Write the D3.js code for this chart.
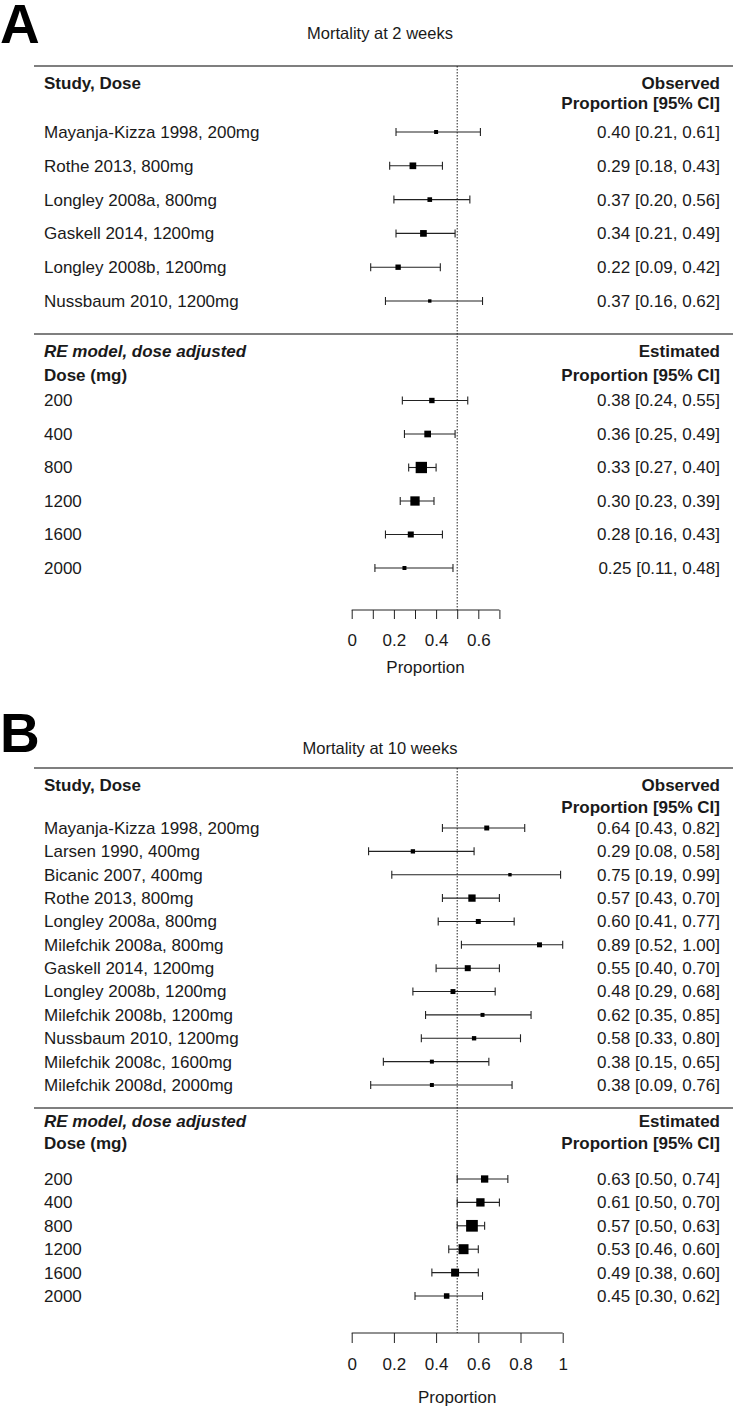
<!DOCTYPE html>
<html><head><meta charset="utf-8">
<script src="https://cdn.jsdelivr.net/npm/d3@7"></script>
<style>body{margin:0;background:#fff}svg{display:block}text{font-family:"Liberation Sans",Arial,sans-serif;fill:#1a1a1a}</style>
</head><body><svg id="c" width="733" height="1408"></svg>
<script>
// ---- Panel A data (Mortality at 2 weeks)
const studiesA = ["Mayanja-Kizza 1998, 200mg","Rothe 2013, 800mg","Longley 2008a, 800mg","Gaskell 2014, 1200mg","Longley 2008b, 1200mg","Nussbaum 2010, 1200mg"];
const obsEstA = [0.40,0.29,0.37,0.34,0.22,0.37];
const obsLoA  = [0.21,0.18,0.20,0.21,0.09,0.16];
const obsHiA  = [0.61,0.43,0.56,0.49,0.42,0.62];
const obsWtA  = [11,31,15,31,20,8];
const dosesA = ["200","400","800","1200","1600","2000"];
const reEstA = [0.38,0.36,0.33,0.30,0.28,0.25];
const reLoA  = [0.24,0.25,0.27,0.23,0.16,0.11];
const reHiA  = [0.55,0.49,0.40,0.39,0.43,0.48];
const reWtA  = [20,31,89,60,25,11];
const ticksA = [0,0.1,0.2,0.3,0.4,0.5,0.6,0.7];
const tickLabelsA = ["0","","0.2","","0.4","","0.6",""];

// ---- Panel B data (Mortality at 10 weeks)
const studiesB = ["Mayanja-Kizza 1998, 200mg","Larsen 1990, 400mg","Bicanic 2007, 400mg","Rothe 2013, 800mg","Longley 2008a, 800mg","Milefchik 2008a, 800mg","Gaskell 2014, 1200mg","Longley 2008b, 1200mg","Milefchik 2008b, 1200mg","Nussbaum 2010, 1200mg","Milefchik 2008c, 1600mg","Milefchik 2008d, 2000mg"];
const obsEstB = [0.64,0.29,0.75,0.57,0.60,0.89,0.55,0.48,0.62,0.58,0.38,0.38];
const obsLoB  = [0.43,0.08,0.19,0.43,0.41,0.52,0.40,0.29,0.35,0.33,0.15,0.09];
const obsHiB  = [0.82,0.58,0.99,0.70,0.77,1.00,0.70,0.68,0.85,0.80,0.65,0.76];
const obsWtB  = [17,13,8,37,17,17,25,17,11,13,11,11];
const dosesB = ["200","400","800","1200","1600","2000"];
const reEstB = [0.63,0.61,0.57,0.53,0.49,0.45];
const reLoB  = [0.50,0.50,0.50,0.46,0.38,0.30];
const reHiB  = [0.74,0.70,0.63,0.60,0.60,0.62];
const reWtB  = [37,48,95,69,44,21];
const ticksB = [0,0.2,0.4,0.6,0.8,1];
const tickLabelsB = ["0","0.2","0.4","0.6","0.8","1"];

const svg = d3.select("#c");
const x = d3.scaleLinear().domain([0,1]).range([351.7,562.7]);
const size = d3.scaleSqrt().domain([0,100]).range([0,12]);
const fmt = d3.format(".2f");
const LX = 44, RX = 720, FS = 17;

function rows(g, labels, est, lo, hi, wt, y) {
  labels.forEach((lab,i)=>{
    const yy = y(i);
    g.append("text").attr("x",LX).attr("y",yy).attr("dy","0.35em").attr("font-size",FS).text(lab);
    g.append("text").attr("x",RX).attr("y",yy).attr("dy","0.35em").attr("text-anchor","end").attr("font-size",FS)
      .text(`${fmt(est[i])} [${fmt(lo[i])}, ${fmt(hi[i])}]`);
    g.append("line").attr("x1",x(lo[i])).attr("x2",x(hi[i])).attr("y1",yy).attr("y2",yy).attr("stroke","#222").attr("stroke-width",1.1);
    [lo[i],hi[i]].forEach(v=>g.append("line").attr("x1",x(v)).attr("x2",x(v)).attr("y1",yy-4).attr("y2",yy+4).attr("stroke","#222").attr("stroke-width",1.1));
    const s = size(wt[i]);
    g.append("rect").attr("x",x(est[i])-s/2).attr("y",yy-s/2).attr("width",s).attr("height",s).attr("fill","#000");
  });
}

function panel(p) {
  const g = svg.append("g");
  g.append("text").attr("x",0).attr("y",p.letterY).attr("font-size",55).attr("font-weight","bold").style("fill","#000").text(p.letter);
  g.append("text").attr("x",380).attr("y",p.titleY).attr("dy","0.35em").attr("text-anchor","middle").attr("font-size",16.5).text(p.title);
  [p.line1,p.line2].forEach(ly=>g.append("line").attr("x1",34).attr("x2",733).attr("y1",ly).attr("y2",ly).attr("stroke","#555").attr("stroke-width",1.5));
  // dotted reference line
  g.append("line").attr("x1",x(0.5)).attr("x2",x(0.5)).attr("y1",p.line1).attr("y2",p.axisY)
    .attr("stroke","#222").attr("stroke-width",1).attr("stroke-dasharray","1.5,1.5");
  // headers
  g.append("text").attr("x",LX).attr("y",p.h1).attr("dy","0.35em").attr("font-size",FS).attr("font-weight","bold").text("Study, Dose");
  g.append("text").attr("x",RX).attr("y",p.h1).attr("dy","0.35em").attr("text-anchor","end").attr("font-size",FS).attr("font-weight","bold").text("Observed");
  g.append("text").attr("x",RX).attr("y",p.h2).attr("dy","0.35em").attr("text-anchor","end").attr("font-size",FS).attr("font-weight","bold").text("Proportion [95% CI]");
  g.append("text").attr("x",LX).attr("y",p.h3).attr("dy","0.35em").attr("font-size",FS).attr("font-weight","bold").attr("font-style","italic").text("RE model, dose adjusted");
  g.append("text").attr("x",LX).attr("y",p.h4).attr("dy","0.35em").attr("font-size",FS).attr("font-weight","bold").text("Dose (mg)");
  g.append("text").attr("x",RX).attr("y",p.h3).attr("dy","0.35em").attr("text-anchor","end").attr("font-size",FS).attr("font-weight","bold").text("Estimated");
  g.append("text").attr("x",RX).attr("y",p.h4).attr("dy","0.35em").attr("text-anchor","end").attr("font-size",FS).attr("font-weight","bold").text("Proportion [95% CI]");
  const y1 = d3.scaleLinear().domain([0,p.studies.length-1]).range(p.obsRange);
  rows(g,p.studies,p.obsEst,p.obsLo,p.obsHi,p.obsWt,y1);
  const y2 = d3.scaleLinear().domain([0,p.doses.length-1]).range(p.reRange);
  rows(g,p.doses,p.reEst,p.reLo,p.reHi,p.reWt,y2);
  // axis
  const ax = d3.scaleLinear().domain([0,1]).range(x.range());
  const axis = d3.axisBottom(ax).tickValues(p.ticks).tickSize(p.tickLen).tickSizeOuter(0)
    .tickFormat((d,i)=>p.tickLabels[i]);
  const ag = g.append("g").attr("transform",`translate(0,${p.axisY})`).call(axis);
  ag.select(".domain").attr("d",`M${ax(p.ticks[0])},0H${ax(p.ticks[p.ticks.length-1])}`).attr("stroke","#222");
  ag.selectAll(".tick line").attr("stroke","#222");
  ag.selectAll(".tick text").attr("font-size",FS).attr("font-family","Liberation Sans, Arial, sans-serif").attr("fill","#1a1a1a")
    .attr("y",null).attr("dy",null).attr("transform",`translate(0,${p.labY-p.axisY})`).attr("dominant-baseline","middle");
  const mid = (p.ticks[0]+p.ticks[p.ticks.length-1])/2;
  g.append("text").attr("x",ax(mid)).attr("y",p.propY).attr("dy","0.35em").attr("text-anchor","middle").attr("font-size",FS).text("Proportion");
}

panel({letter:"A",letterY:43,title:"Mortality at 2 weeks",titleY:33,line1:66,line2:334,h1:83,h2:103,h3:351,h4:375,
  studies:studiesA,obsEst:obsEstA,obsLo:obsLoA,obsHi:obsHiA,obsWt:obsWtA,obsRange:[132,301],
  doses:dosesA,reEst:reEstA,reLo:reLoA,reHi:reHiA,reWt:reWtA,reRange:[400.5,568],
  ticks:ticksA,tickLabels:tickLabelsA,tickLen:9,axisY:610,labY:642,propY:667});
panel({letter:"B",letterY:752,title:"Mortality at 10 weeks",titleY:748,line1:768,line2:1108,h1:785,h2:807,h3:1121,h4:1143,
  studies:studiesB,obsEst:obsEstB,obsLo:obsLoB,obsHi:obsHiB,obsWt:obsWtB,obsRange:[828,1085],
  doses:dosesB,reEst:reEstB,reLo:reLoB,reHi:reHiB,reWt:reWtB,reRange:[1179,1296],
  ticks:ticksB,tickLabels:tickLabelsB,tickLen:10,axisY:1333,labY:1366,propY:1397});
</script></body></html>
